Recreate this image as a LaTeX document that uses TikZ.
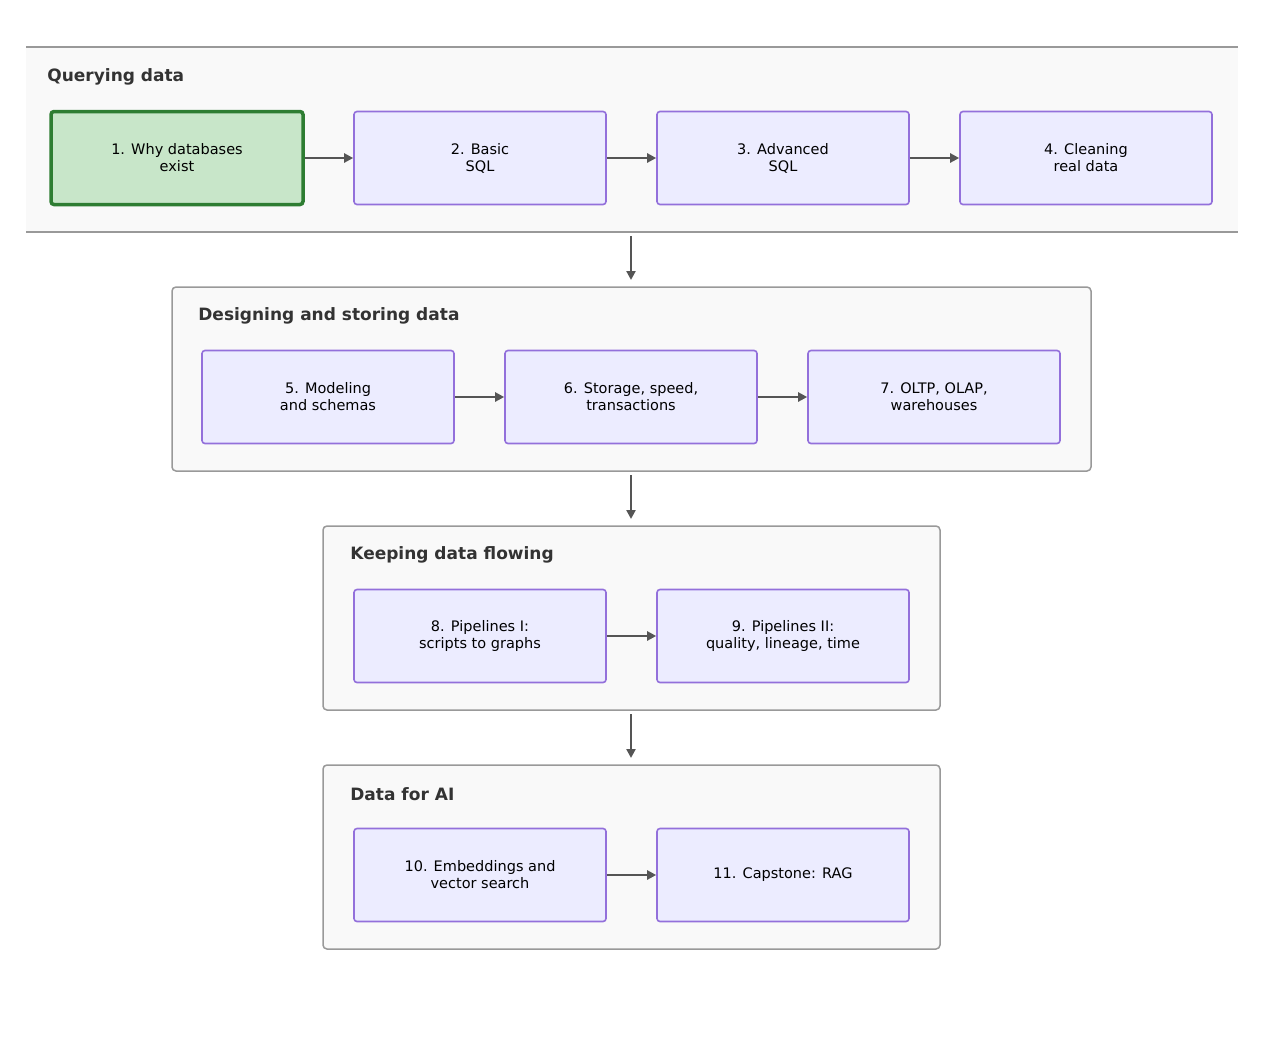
\documentclass[tikz,border=0pt]{standalone}
\usepackage{fontspec}
\setmainfont{DejaVu Sans}
\usetikzlibrary{arrows.meta}
\definecolor{boxfill}{HTML}{ECECFF}
\definecolor{boxline}{HTML}{9370DB}
\definecolor{greenfill}{HTML}{C8E6C9}
\definecolor{greenline}{HTML}{2E7D32}
\definecolor{groupfill}{HTML}{F9F9F9}
\definecolor{groupline}{HTML}{999999}
\definecolor{arrowgray}{HTML}{555555}
\tikzset{every picture/.style={line width=0.75pt}}
\tikzset{
  box/.style={draw=boxline, fill=boxfill, rounded corners=3pt, line width=1.6pt,
    minimum width=252pt, minimum height=93pt, align=center,
    font=\fontsize{14.5}{17}\selectfont, inner sep=0pt},
  startbox/.style={box, draw=greenline, fill=greenfill, line width=3.5pt},
  group/.style={draw=groupline, fill=groupfill, rounded corners=4pt, line width=1.5pt},
  grouptitle/.style={anchor=west, inner sep=0pt, text=black!80,
    font=\fontsize{17}{20}\selectfont\bfseries},
  flow/.style={draw=arrowgray, line width=2.5pt, -{Triangle[length=9pt,width=9pt]}}
}
\begin{document}
\begin{tikzpicture}[x=1pt,y=1pt,yscale=-1]
\useasboundingbox (0,0) rectangle (1263,1045);

%Group: Querying data
\fill [groupfill] (26,47) rectangle (1238,232);
\draw [groupline, line width=1.5pt] (26,47) -- (1238,47) (26,232) -- (1238,232);
\node [grouptitle] (t1) at (47,77) {Querying data};
\node [startbox] (b1) at (177,158) {1. Why databases\\exist};
\node [box] (b2) at (480,158) {2. Basic\\SQL};
\node [box] (b3) at (783,158) {3. Advanced\\SQL};
\node [box] (b4) at (1086,158) {4. Cleaning\\real data};
\draw [flow] (b1) -- (b2);
\draw [flow] (b2) -- (b3);
\draw [flow] (b3) -- (b4);

%Group: Designing and storing data
\draw [group] (172,287) rectangle (1091,471);
\node [grouptitle] (t2) at (198,316) {Designing and storing data};
\node [box] (b5) at (328,397) {5. Modeling\\and schemas};
\node [box] (b6) at (631,397) {6. Storage, speed,\\transactions};
\node [box] (b7) at (934,397) {7. OLTP, OLAP,\\warehouses};
\draw [flow] (b5) -- (b6);
\draw [flow] (b6) -- (b7);

%Group: Keeping data flowing
\draw [group] (323,526) rectangle (940,710);
\node [grouptitle] (t3) at (350,555) {Keeping data flowing};
\node [box] (b8) at (480,636) {8. Pipelines I:\\scripts to graphs};
\node [box] (b9) at (783,636) {9. Pipelines II:\\quality, lineage, time};
\draw [flow] (b8) -- (b9);

%Group: Data for AI
\draw [group] (323,765) rectangle (940,949);
\node [grouptitle] (t4) at (350,794) {Data for AI};
\node [box] (b10) at (480,875) {10. Embeddings and\\vector search};
\node [box] (b11) at (783,875) {11. Capstone: RAG};
\draw [flow] (b10) -- (b11);

%Between groups
\coordinate (g1s) at (631,236); \coordinate (g2e) at (631,280);
\coordinate (g2s) at (631,475); \coordinate (g3e) at (631,519);
\coordinate (g3s) at (631,714); \coordinate (g4e) at (631,758);
\draw [flow] (g1s) -- (g2e);
\draw [flow] (g2s) -- (g3e);
\draw [flow] (g3s) -- (g4e);
\end{tikzpicture}
\end{document}
